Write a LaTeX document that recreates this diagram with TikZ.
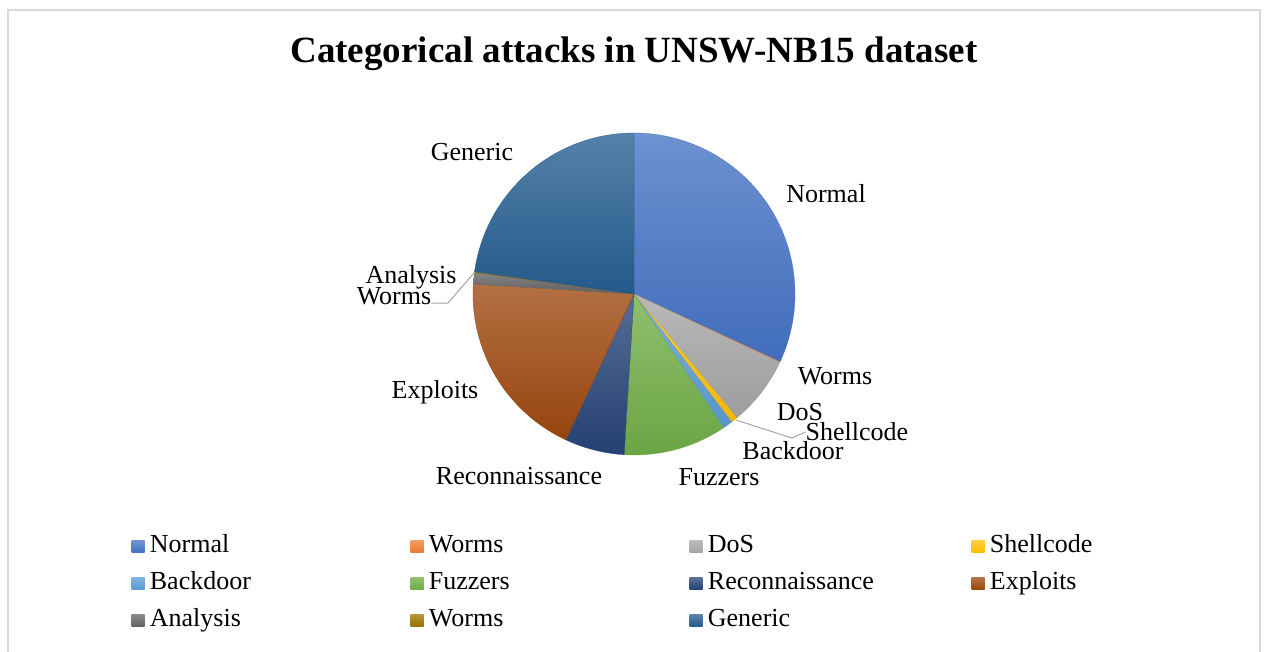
\documentclass[tikz,border=0pt]{standalone}
\usepackage{fontspec}
\setmainfont{Liberation Serif}
\usetikzlibrary{positioning}
\definecolor{cNormal}{HTML}{4472C4}
\definecolor{cWormsA}{HTML}{ED7D31}
\definecolor{cDoS}{HTML}{A5A5A5}
\definecolor{cShell}{HTML}{FFC000}
\definecolor{cBack}{HTML}{5B9BD5}
\definecolor{cFuzz}{HTML}{70AD47}
\definecolor{cRecon}{HTML}{264478}
\definecolor{cExpl}{HTML}{9E480E}
\definecolor{cAnal}{HTML}{636363}
\definecolor{cWormsB}{HTML}{997300}
\definecolor{cGen}{HTML}{255E91}
\begin{document}
\begin{tikzpicture}
		[x=1pt,y=-1pt,%
		  lbl/.style={font=\fontsize{26}{30}\selectfont,inner sep=0pt},
		  keytext/.style={lbl,text height=18pt,text depth=6pt},
		  key/.style={minimum width=13pt,minimum height=12pt,inner sep=0pt},
		  leader/.style={draw=black!35,line width=1pt}]
		\useasboundingbox (0,0) rectangle (1265,652);
		\draw[black!15,line width=1.8pt] (8,652) -- (8,10) -- (1260,10) -- (1260,652);
		\node[font=\bfseries\fontsize{37}{44}\selectfont,anchor=base,inner sep=0pt] (title) at (634,63)
		  {Categorical attacks in UNSW-NB15 dataset};
		\coordinate (ctr) at (634,294);
		\xdef\cum{-90}
		\foreach \pct/\col in {31.914/cNormal,0.074/cWormsA,6.989/cDoS,0.646/cShell,0.995/cBack,%
		  10.363/cFuzz,5.979/cRecon,19.030/cExpl,1.140/cAnal,0.074/cWormsB,22.796/cGen}
		{
		  \pgfmathsetmacro\e{\cum+3.6*\pct}
		  \shade[top color=\col!78!white,bottom color=\col!95!black,draw=\col!95!black,line width=0.3pt]
		    (ctr) -- ++(\cum:161) arc[start angle=\cum,end angle=\e,radius=161] -- cycle;
		  \xdef\cum{\e}
		}
		\node[lbl] (lGeneric) at (472,152) {Generic};
		\node[lbl] (lNormal) at (826,194) {Normal};
		\node[lbl] (lWormsA) at (835,376) {Worms};
		\node[lbl] (lDoS) at (800,412) {DoS};
		\node[lbl] (lShell) at (857,432) {Shellcode};
		\node[lbl] (lBack) at (793,451) {Backdoor};
		\node[lbl] (lFuzz) at (719,477) {Fuzzers};
		\node[lbl] (lRecon) at (519,476) {Reconnaissance};
		\node[lbl] (lExpl) at (435,392) {Exploits};
		\node[lbl] (lAnal) at (411,277) {Analysis};
		\node[lbl] (lWormsB) at (394,296) {Worms};
		\coordinate (pShell) at (736,420);
		\coordinate (pWorms) at (474,273);
		\draw[leader] (pShell) -- (792,438) -- (lShell.west);
		\draw[leader] (pWorms) -- (448,303) -- (lWormsB.east |- 0,303);
		\foreach \x/\y/\col/\name in {138/546/cNormal/Normal,417/546/cWormsA/Worms,696/546/cDoS/DoS,978/546/cShell/Shellcode,%
		  138/583/cBack/Backdoor,417/583/cFuzz/Fuzzers,696/583/cRecon/Reconnaissance,978/583/cExpl/Exploits,%
		  138/620/cAnal/Analysis,417/620/cWormsB/Worms,696/620/cGen/Generic}
		{
		  \node[key,top color=\col!75!white,bottom color=\col] (k\x\y) at (\x,\y) {};
		  \node[keytext,right=5pt of k\x\y] {\name};
		}
	\end{tikzpicture}
\end{document}
